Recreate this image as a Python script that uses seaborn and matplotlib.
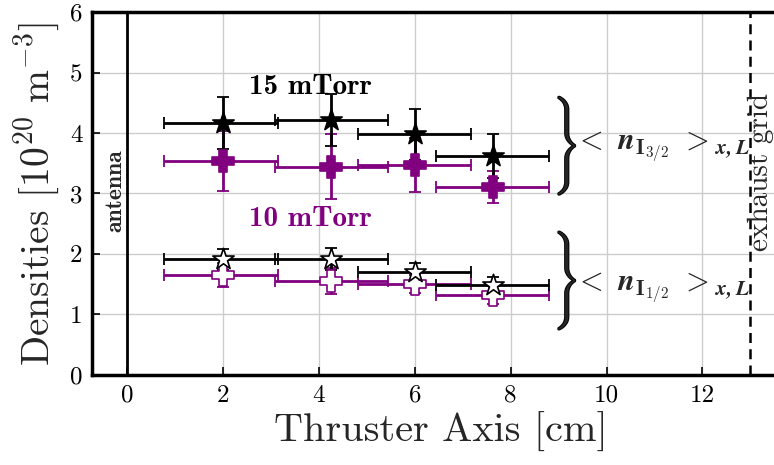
import numpy as np
import pandas as pd
import seaborn as sns
import matplotlib
matplotlib.use("Agg")
import matplotlib.pyplot as plt
import matplotlib.patheffects as pe

# ---------------- data ----------------
x_pos = [2.0, 4.25, 6.0, 7.63]
# bin edges (horizontal error bars)
x_lo = [0.77, 3.08, 4.82, 6.45]
x_hi = [3.15, 5.44, 7.18, 8.79]

# 15 mTorr, n_I3/2 (filled black stars)
n32_15 = [4.17, 4.21, 3.98, 3.62]
n32_15_err = [0.43, 0.43, 0.42, 0.37]
# 10 mTorr, n_I3/2 (filled purple plus)
n32_10 = [3.54, 3.44, 3.47, 3.11]
n32_10_err = [0.50, 0.54, 0.44, 0.26]
# 15 mTorr, n_I1/2 (open black stars)
n12_15 = [1.91, 1.91, 1.70, 1.49]
n12_15_err = [0.17, 0.18, 0.15, 0.13]
# 10 mTorr, n_I1/2 (open purple plus)
n12_10 = [1.65, 1.55, 1.50, 1.32]
n12_10_err = [0.20, 0.22, 0.15, 0.15]

xticks = [0, 2, 4, 6, 8, 10, 12]
yticks = [0, 1, 2, 3, 4, 5, 6]

# ---------------- style ----------------
sns.set_style("whitegrid")
plt.rcParams["font.family"] = "cmr10"
plt.rcParams["mathtext.fontset"] = "cm"
plt.rcParams["axes.unicode_minus"] = False
plt.rcParams["axes.formatter.use_mathtext"] = True

PURPLE = "#800080"

fig = plt.figure(figsize=(7.74, 4.65), dpi=100)
ax = fig.add_axes([0.119, 0.194, 0.90, 0.780])

xlo = np.array(x_lo); xhi = np.array(x_hi); xp = np.array(x_pos)
xerr = np.vstack([xp - xlo, xhi - xp])

def draw(y, yerr, color, marker, filled, ms):
    ax.errorbar(xp, y, xerr=xerr, yerr=yerr, fmt="none", ecolor=color,
                elinewidth=2.0, capsize=4, capthick=1.3, zorder=3)
    df = pd.DataFrame({"x": xp, "y": y})
    sns.scatterplot(data=df, x="x", y="y", ax=ax, marker=marker, s=ms,
                    color=(color if filled else "white"),
                    edgecolor=color, linewidth=1.2, zorder=4, legend=False)

draw(n32_10, n32_10_err, PURPLE, "P", True, 250)
draw(n32_15, n32_15_err, "black", "*", True, 260)
draw(n12_10, n12_10_err, PURPLE, "P", False, 250)
draw(n12_15, n12_15_err, "black", "*", False, 260)

ax.set_xlim(-0.73, 13.80)
ax.set_ylim(0, 6)
ax.set_xticks(xticks)
ax.set_yticks(yticks)
ax.set_xticklabels([str(t) for t in xticks])
ax.set_yticklabels([str(t) for t in yticks])
ax.tick_params(direction="in", length=6, width=1.2, labelsize=18, colors="black",
               top=False, right=False, left=True, bottom=True, pad=7)
ax.grid(True, color="#cccccc", linewidth=1.0)
ax.set_axisbelow(True)
for s in ax.spines.values():
    s.set_color("black")
    s.set_linewidth(2.5)
ax.spines["right"].set_visible(False)

ax.set_xlabel("Thruster Axis [cm]", fontsize=29, labelpad=4)
ax.set_ylabel(r"Densities $[10^{20}\ \mathrm{m}^{-3}]$", fontsize=28.5, labelpad=6)

# antenna & exhaust grid
ax.axvline(0, color="black", linewidth=2.0, zorder=2)
ax.axvline(13, color="black", linewidth=1.8, linestyle=(0, (4, 2.5)), zorder=2)
ax.text(-0.25, 3.04, "antenna", rotation=90, ha="center", va="center",
        fontsize=17, family="cmb10")
ax.text(13.22, 3.35, "exhaust grid", rotation=90, ha="center", va="center",
        fontsize=21)

ax.text(3.82, 4.76, "15 mTorr", ha="center", va="center",
        fontsize=21, color="black", family="cmb10")
ax.text(3.82, 2.57, "10 mTorr", ha="center", va="center",
        fontsize=21, color=PURPLE, family="cmb10")

# braces (TeX "Bigg" right brace from cmex10) and labels
thick = [pe.withStroke(linewidth=1.4, foreground="black")]
ax.text(9.17, 3.80, ")", ha="center", va="center", fontsize=23.5, family="cmex10",
        path_effects=thick)
ax.text(9.17, 1.57, ")", ha="center", va="center", fontsize=23.5, family="cmex10",
        path_effects=thick)
ax.text(9.33, 3.77, r"$<\ \mathbfit{n}_{\mathbf{I}_{\mathbf{3/2}}}\ >_{\mathbfit{x,L}}$",
        ha="left", va="center", fontsize=22)
ax.text(9.33, 1.45, r"$<\ \mathbfit{n}_{\mathbf{I}_{\mathbf{1/2}}}\ >_{\mathbfit{x,L}}$",
        ha="left", va="center", fontsize=22)

fig.savefig("out.png", dpi=100)
